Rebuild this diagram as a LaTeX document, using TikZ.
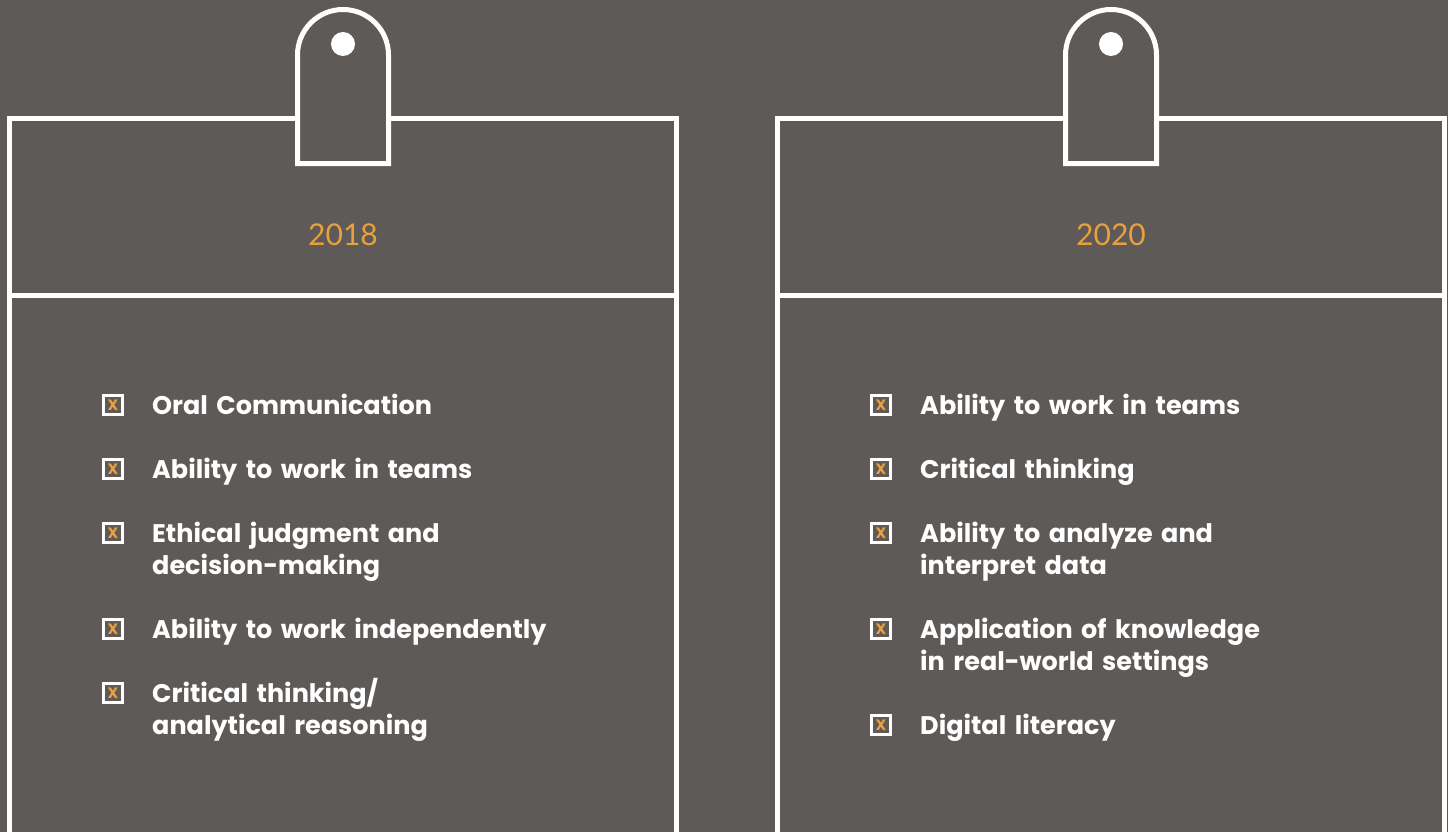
\documentclass[tikz,border=0pt]{standalone}
\usepackage{fontspec}
\setmainfont{Poppins}
\newfontfamily\yearfont{Lato}
\usetikzlibrary{positioning}
\definecolor{slate}{HTML}{5E5A58}
\definecolor{amber}{HTML}{EAA03C}

\begin{document}
\begin{tikzpicture}[x=1pt, y=-1pt,
    card/.style={draw=white, line width=5pt},
    tagline/.style={draw=white, line width=5pt, fill=slate},
    year/.style={text=amber, font=\yearfont\fontsize{30}{32}\selectfont},
    tick/.style={draw=white, line width=2.6pt, minimum size=19pt, inner sep=0pt,
                 text=amber, font=\bfseries\fontsize{15}{15}\selectfont},
    item/.style={text=white, anchor=base west, inner sep=0pt, text width=480pt, align=left,
                 font=\bfseries\fontsize{25.5}{32}\selectfont}]
    \fill[slate] (0,0) rectangle (1448,832);
    \useasboundingbox (0,0) rectangle (1448,832);

    % left card
    \draw[card] (9.5,850) -- (9.5,118.5) -- (676.5,118.5) -- (676.5,850);
    \draw[card] (9.5,295.5) -- (676.5,295.5);
    \draw[tagline] (297.5,163.5) -- (297.5,55) arc (180:360:45.5) -- (388.5,163.5) -- cycle;
    \fill[white] (343,44) circle (12);
    \node[year] (y18) at (343,235) {2018};

    % right card
    \draw[card] (777.5,850) -- (777.5,118.5) -- (1444.5,118.5) -- (1444.5,850);
    \draw[card] (777.5,295.5) -- (1444.5,295.5);
    \draw[tagline] (1065.5,163.5) -- (1065.5,55) arc (180:360:45.5) -- (1156.5,163.5) -- cycle;
    \fill[white] (1111,44) circle (12);
    \node[year] (y20) at (1111,235) {2020};

    % 2018 list
    \node[tick] (b1) at (113,405) {X};
    \node[item] (s1) at (152,414.5) {Oral Communication};
    \node[tick] (b2) at (113,469) {X};
    \node[item] (s2) at (152,478.5) {Ability to work in teams};
    \node[tick] (b3) at (113,533) {X};
    \node[item] (s3) at (152,542.5) {Ethical judgment and\\decision-making};
    \node[tick] (b4) at (113,629) {X};
    \node[item] (s4) at (152,638.5) {Ability to work independently};
    \node[tick] (b5) at (113,693) {X};
    \node[item] (s5) at (152,702.5) {Critical thinking/\\analytical reasoning};

    % 2020 list
    \node[tick] (c1) at (881,405) {X};
    \node[item] (t1) at (920,414.5) {Ability to work in teams};
    \node[tick] (c2) at (881,469) {X};
    \node[item] (t2) at (920,478.5) {Critical thinking};
    \node[tick] (c3) at (881,533) {X};
    \node[item] (t3) at (920,542.5) {Ability to analyze and\\interpret data};
    \node[tick] (c4) at (881,629) {X};
    \node[item] (t4) at (920,638.5) {Application of knowledge\\in real-world settings};
    \node[tick] (c5) at (881,725) {X};
    \node[item] (t5) at (920,734.5) {Digital literacy};
\end{tikzpicture}
\end{document}
